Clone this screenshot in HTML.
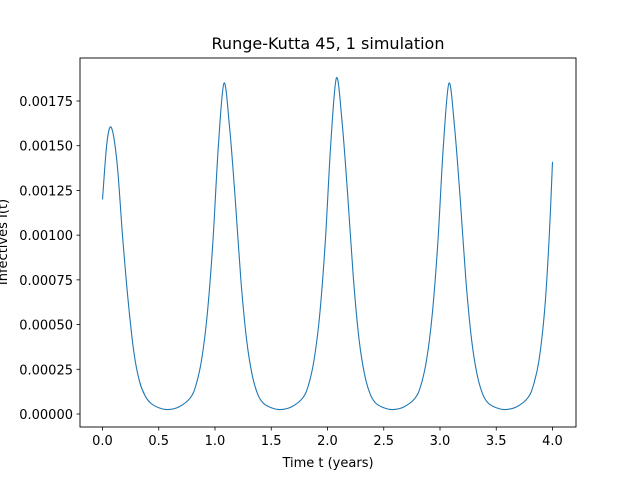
<!DOCTYPE html>
<html><head><meta charset="utf-8"><style>
body{margin:0;background:#fff;font-family:"Liberation Sans","DejaVu Sans",sans-serif;}
svg text{font-family:"DejaVu Sans","Liberation Sans",sans-serif;}
</style></head><body>
<svg id="chart" width="640" height="480" viewBox="0 0 640 480">
<rect width="640" height="480" fill="#fff"/>
<text x="328" y="49" text-anchor="middle" font-size="16" fill="#000">Runge-Kutta 45, 1 simulation</text>
<text x="328" y="467" text-anchor="middle" font-size="13" fill="#000">Time t (years)</text>
<text transform="translate(7,242) rotate(-90)" text-anchor="middle" font-size="13" fill="#000">Infectives I(t)</text>
<g id="ticks"></g>
<path id="line" fill="none" stroke="#1f77b4" stroke-width="1.1"/>
<rect x="80" y="58" width="496" height="369" fill="none" stroke="#000" stroke-width="0.9"/>
</svg>
<script>
const times = [0,0.04,0.08,0.13,0.18,0.23,0.28,0.33,0.38,0.43,0.5,0.58,
0.68,0.78,0.83,0.88,0.93,0.98,1.03,1.08,1.13,1.18,1.23,1.28,1.33,1.38,1.43,1.5,1.58,
1.68,1.78,1.83,1.88,1.93,1.98,2.03,2.08,2.13,2.18,2.23,2.28,2.33,2.38,2.43,2.5,2.58,
2.68,2.78,2.83,2.88,2.93,2.98,3.03,3.08,3.13,3.18,3.23,3.28,3.33,3.38,3.43,3.5,3.58,
3.68,3.78,3.83,3.88,3.93,3.97,4.0];
const infectives = [0.0012,0.00152,0.0016,0.0014,0.00098,0.00062,0.00034,0.00018,0.0001,0.00006,0.000035,0.000025,
0.00004,0.00009,0.00016,0.0003,0.00055,0.00095,0.0015,0.00185,0.0016,0.0012,0.00075,0.00042,0.00022,0.00011,0.00006,0.000035,0.000025,
0.00004,0.00009,0.00016,0.0003,0.00055,0.00096,0.00152,0.00188,0.00163,0.00122,0.00076,0.00042,0.00022,0.00011,0.00006,0.000035,0.000025,
0.00004,0.00009,0.00016,0.0003,0.00055,0.00095,0.0015,0.00185,0.0016,0.0012,0.00075,0.00042,0.00022,0.00011,0.00006,0.000035,0.000025,
0.00004,0.00009,0.00016,0.0003,0.00058,0.00098,0.00141];
const xTicks = [0,0.5,1,1.5,2,2.5,3,3.5,4];
const xTickLabels = ["0.0","0.5","1.0","1.5","2.0","2.5","3.0","3.5","4.0"];
const yTicks = [0,0.00025,0.0005,0.00075,0.001,0.00125,0.0015,0.00175];
const yTickLabels = ["0.00000","0.00025","0.00050","0.00075","0.00100","0.00125","0.00150","0.00175"];

const X = t => 102.5 + t*112.5;
const Y = v => 414 - v*178857;
const NS = "http://www.w3.org/2000/svg";
const g = document.getElementById('ticks');
xTicks.forEach((t,i)=>{
  const l=document.createElementNS(NS,'line');
  l.setAttribute('x1',X(t));l.setAttribute('x2',X(t));l.setAttribute('y1',427);l.setAttribute('y2',430.5);
  l.setAttribute('stroke','#000');l.setAttribute('stroke-width','0.8');
  
  
  g.appendChild(l);
  const tx=document.createElementNS(NS,'text');
  tx.setAttribute('x',X(t));tx.setAttribute('y',445);tx.setAttribute('text-anchor','middle');tx.setAttribute('font-size','13');
  tx.textContent=xTickLabels[i];
  
  
  g.appendChild(tx);
});
yTicks.forEach((v,i)=>{
  const l=document.createElementNS(NS,'line');
  l.setAttribute('x1',76.5);l.setAttribute('x2',80);l.setAttribute('y1',Y(v));l.setAttribute('y2',Y(v));
  l.setAttribute('stroke','#000');l.setAttribute('stroke-width','0.8');
  
  
  g.appendChild(l);
  const tx=document.createElementNS(NS,'text');
  tx.setAttribute('x',73);tx.setAttribute('y',Y(v)+5);tx.setAttribute('text-anchor','end');tx.setAttribute('font-size','13');
  tx.textContent=yTickLabels[i];
  
  
  g.appendChild(tx);
});
const pts = times.map((t,i)=>[X(t),Y(infectives[i])]);
let d = 'M'+pts[0][0]+','+pts[0][1];
for(let i=0;i<pts.length-1;i++){
  const p0=pts[Math.max(0,i-1)],p1=pts[i],p2=pts[i+1],p3=pts[Math.min(pts.length-1,i+2)];
  const c1=[p1[0]+(p2[0]-p0[0])/6,p1[1]+(p2[1]-p0[1])/6];
  const c2=[p2[0]-(p3[0]-p1[0])/6,p2[1]-(p3[1]-p1[1])/6];
  d+=' C'+c1[0]+','+c1[1]+' '+c2[0]+','+c2[1]+' '+p2[0]+','+p2[1];
}
document.getElementById('line').setAttribute('d',d);
</script>
</body></html>
